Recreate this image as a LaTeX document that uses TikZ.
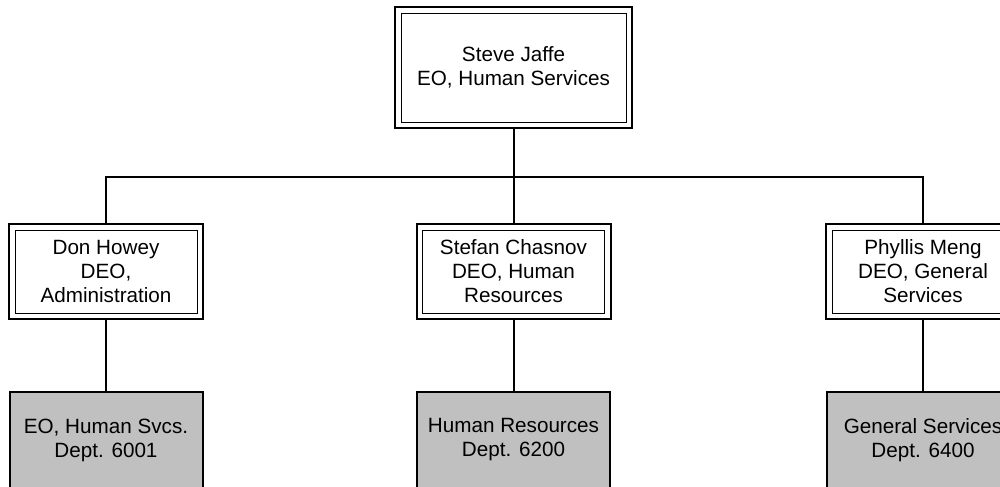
\documentclass[tikz,border=0pt]{standalone}
\usepackage{fontspec}
\setmainfont{Liberation Sans}
\usepackage{tikz}
\usepackage{xcolor}
\definecolor{dept-gray}{HTML}{C0C0C0}
\tikzset{
    chart-line/.style = {draw=black, line width=1.5pt},
    double-box/.style = {draw=black, fill=white, line width=1.5pt, rectangle, align=center, inner sep=0pt,
        font=\fontsize{15.5pt}{18pt}\selectfont,
        path picture={\draw[line width=0.75pt] ([shift={(4.5pt,-4.5pt)}]path picture bounding box.north west) rectangle ([shift={(-4.5pt,4.5pt)}]path picture bounding box.south east);}},
    chief-box/.style = {double-box, minimum width=177.75pt, minimum height=90.75pt},
    deputy-box/.style = {double-box, minimum width=145.5pt, minimum height=71.25pt},
    dept-box/.style = {draw=black, fill=dept-gray, line width=1.5pt, rectangle, align=center, inner sep=0pt,
        font=\fontsize{15.5pt}{18pt}\selectfont, minimum width=144.75pt, minimum height=72pt},
}

\begin{document}
\begin{tikzpicture}[x=0.75pt, y=-0.75pt]
\useasboundingbox (0,0) rectangle (1000,486);
\node [chief-box] (jaffe) at (513.5,67.5) {Steve Jaffe\\EO, Human Services};
\coordinate (bus) at (513.5,177);
% deputies
\node [deputy-box] (howey) at (106,271.5) {Don Howey\\DEO,\\Administration};
\node [deputy-box] (chasnov) at (513.5,271.5) {Stefan Chasnov\\DEO, Human\\Resources};
\node [deputy-box] (meng) at (923,271.5) {Phyllis Meng\\DEO, General\\Services};
% departments
\node [dept-box] (svcs) at (106,440) {EO, Human Svcs.\\Dept. 6001};
\node [dept-box] (hr) at (513.5,440) {Human Resources\\Dept. 6200};
\node [dept-box] (general) at (923,440) {General Services\\Dept. 6400};
% connectors
\draw [chart-line] (jaffe.south) -- (bus);
\draw [chart-line] (howey.north) |- (bus) -| (meng.north);
\draw [chart-line] (bus) -- (chasnov.north);
\draw [chart-line] (howey.south) -- (svcs.north);
\draw [chart-line] (chasnov.south) -- (hr.north);
\draw [chart-line] (meng.south) -- (general.north);
\end{tikzpicture}
\end{document}
